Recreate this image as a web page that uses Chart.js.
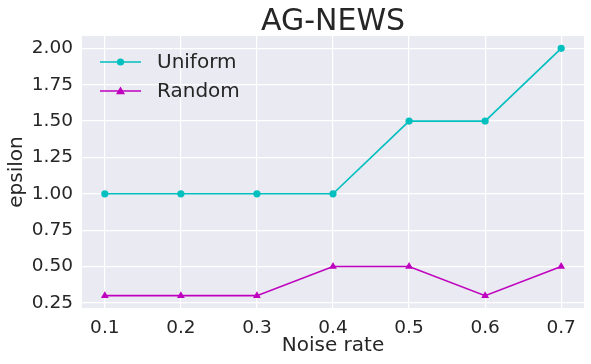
<!DOCTYPE html>
<html>
<head>
<meta charset="utf-8">
<script src="https://cdn.jsdelivr.net/npm/chart.js@4.4.1/dist/chart.umd.min.js"></script>
<style>
  html, body { margin: 0; padding: 0; background: #ffffff; }
  #diagram { display: block; }
</style>
</head>
<body>
<canvas id="diagram" width="591" height="364"></canvas>
<script>
// values
const noiseRates = [0.1, 0.2, 0.3, 0.4, 0.5, 0.6, 0.7];
const uniformEps = [1.0, 1.0, 1.0, 1.0, 1.5, 1.5, 2.0];
const randomEps = [0.3, 0.3, 0.3, 0.5, 0.5, 0.3, 0.5];
const xTicks = [0.1, 0.2, 0.3, 0.4, 0.5, 0.6, 0.7];
const yTicks = [0.25, 0.5, 0.75, 1.0, 1.25, 1.5, 1.75, 2.0];

const textColor = '#262626';
const fontFamily = '"DejaVu Sans", sans-serif';

window.onload = init;

function init() {
    createChart();
}

// grey panel behind the plot, seaborn style
const panelBackground = {
    id: 'panelBackground',
    beforeDraw(chart) {
        const { ctx, chartArea } = chart;
        ctx.save();
        ctx.fillStyle = '#eaeaf2';
        ctx.fillRect(chartArea.left, chartArea.top, chartArea.right - chartArea.left, chartArea.bottom - chartArea.top);
        ctx.restore();
    }
};

// legend inside the plot, line + marker like matplotlib
const innerLegend = {
    id: 'innerLegend',
    afterDatasetsDraw(chart) {
        const ctx = chart.ctx;
        const rows = [62, 91];
        chart.data.datasets.forEach((ds, i) => {
            const y = rows[i];
            ctx.save();
            ctx.strokeStyle = ds.borderColor;
            ctx.lineWidth = ds.borderWidth;
            ctx.beginPath();
            ctx.moveTo(100, y);
            ctx.lineTo(141, y);
            ctx.stroke();
            ctx.fillStyle = ds.borderColor;
            ctx.beginPath();
            if (ds.pointStyle === 'triangle') {
                const r = 4.5;
                ctx.moveTo(120.5, y - r);
                ctx.lineTo(120.5 + r, y + r * 0.7);
                ctx.lineTo(120.5 - r, y + r * 0.7);
                ctx.closePath();
            } else {
                ctx.arc(120.5, y, 3.6, 0, Math.PI * 2);
            }
            ctx.fill();
            ctx.fillStyle = textColor;
            ctx.font = '20px ' + fontFamily;
            ctx.textBaseline = 'middle';
            ctx.textAlign = 'left';
            ctx.fillText(ds.label, 157, y + 1);
            ctx.restore();
        });
    }
};

function createChart() {
    const ctx = document.getElementById('diagram').getContext('2d');

    new Chart(ctx, {
        type: 'line',
        data: {
            datasets: [
                {
                    label: 'Uniform',
                    data: noiseRates.map((x, i) => ({ x: x, y: uniformEps[i] })),
                    borderColor: '#00bfbf',
                    backgroundColor: '#00bfbf',
                    borderWidth: 1.6,
                    pointStyle: 'circle',
                    pointRadius: 3.6,
                    pointBorderWidth: 0
                },
                {
                    label: 'Random',
                    data: noiseRates.map((x, i) => ({ x: x, y: randomEps[i] })),
                    borderColor: '#bf00bf',
                    backgroundColor: '#bf00bf',
                    borderWidth: 1.6,
                    pointStyle: 'triangle',
                    pointRadius: 4.5,
                    pointBorderWidth: 0
                }
            ]
        },
        options: {
            responsive: false,
            animation: false,
            layout: { padding: { left: 0, right: 7, top: 0, bottom: 0 } },
            plugins: {
                legend: { display: false },
                tooltip: { enabled: false },
                title: {
                    display: true,
                    text: 'AG-NEWS',
                    fullSize: false,
                    color: textColor,
                    font: { family: fontFamily, size: 30, weight: 'normal', lineHeight: 0.9 },
                    padding: { top: 9, bottom: 0 }
                }
            },
            scales: {
                x: {
                    type: 'linear',
                    min: 0.07,
                    max: 0.73,
                    afterBuildTicks: scale => { scale.ticks = xTicks.map(v => ({ value: v })); },
                    afterFit: scale => { scale.height = 56; },
                    border: { display: false },
                    grid: { color: '#ffffff', lineWidth: 1.2, drawTicks: false },
                    ticks: {
                        color: textColor,
                        font: { family: fontFamily, size: 18.5 },
                        padding: 9,
                        callback: v => v.toFixed(1)
                    },
                    title: {
                        display: true,
                        text: 'Noise rate',
                        color: textColor,
                        font: { family: fontFamily, size: 20 },
                        padding: { top: 0, bottom: 6 }
                    }
                },
                y: {
                    min: 0.215,
                    max: 2.085,
                    afterBuildTicks: scale => { scale.ticks = yTicks.map(v => ({ value: v })); },
                    afterFit: scale => { scale.width = 82; },
                    border: { display: false },
                    grid: { color: '#ffffff', lineWidth: 1.2, drawTicks: false },
                    ticks: {
                        color: textColor,
                        font: { family: fontFamily, size: 18.5 },
                        padding: 9,
                        callback: v => v.toFixed(2)
                    },
                    title: {
                        display: true,
                        text: 'epsilon',
                        color: textColor,
                        font: { family: fontFamily, size: 20 },
                        padding: { top: 5, bottom: 0 }
                    }
                }
            }
        },
        plugins: [panelBackground, innerLegend]
    });
}
</script>
</body>
</html>
